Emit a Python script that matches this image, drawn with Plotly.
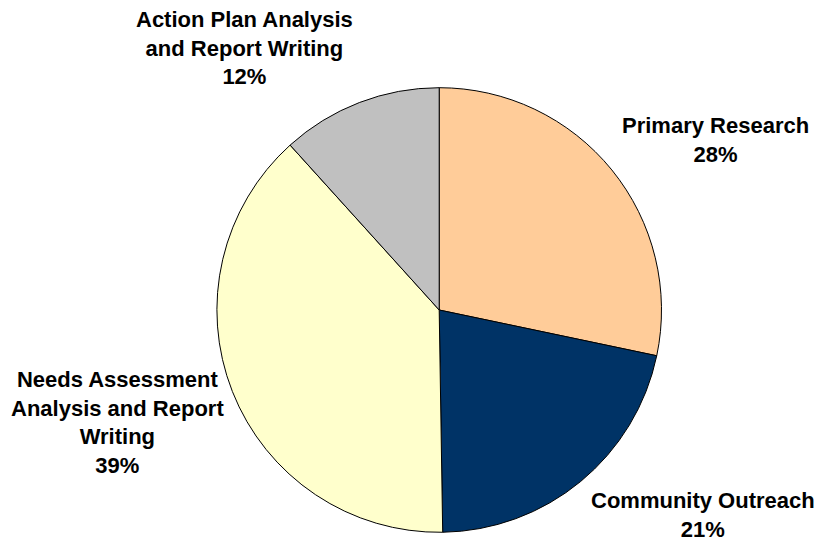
import plotly.graph_objects as go

categories = ["Primary Research", "Community Outreach",
              "Needs Assessment Analysis and Report Writing",
              "Action Plan Analysis and Report Writing"]
values = [28.3, 21.45, 38.55, 11.7]
colors = ["#FFCC99", "#003366", "#FFFFCC", "#C0C0C0"]
label_text = ["Primary Research", "Community Outreach",
              "Needs Assessment<br>Analysis and Report<br>Writing",
              "Action Plan Analysis<br>and Report Writing"]
# label block centres (pixels) in the 817x543 frame
label_pos = [(715, 140), (703, 515), (117, 422), (244, 48)]

W, H = 817, 543
cx, cy, r = 439.2, 310, 222.3

fig = go.Figure(go.Pie(
    labels=categories, values=values, sort=False, direction="clockwise",
    rotation=0, marker=dict(colors=colors, line=dict(color="black", width=1)),
    textinfo="none", hoverinfo="label+percent", showlegend=False,
    domain=dict(x=[(cx - r) / W, (cx + r) / W],
                y=[(H - cy - r) / H, (H - cy + r) / H]),
))

total = sum(values)
for txt, v, (px, py) in zip(label_text, values, label_pos):
    fig.add_annotation(
        x=px / W, y=1 - py / H, xref="paper", yref="paper",
        text=f"<b>{txt}<br>{round(100 * v / total)}%</b>",
        showarrow=False, align="center", xanchor="center", yanchor="middle",
        font=dict(family="Arial, Liberation Sans, sans-serif", size=22, color="black"),
    )

fig.update_layout(width=W, height=H, margin=dict(l=0, r=0, t=0, b=0),
                  paper_bgcolor="white", plot_bgcolor="white")
fig.write_html("out.html")
